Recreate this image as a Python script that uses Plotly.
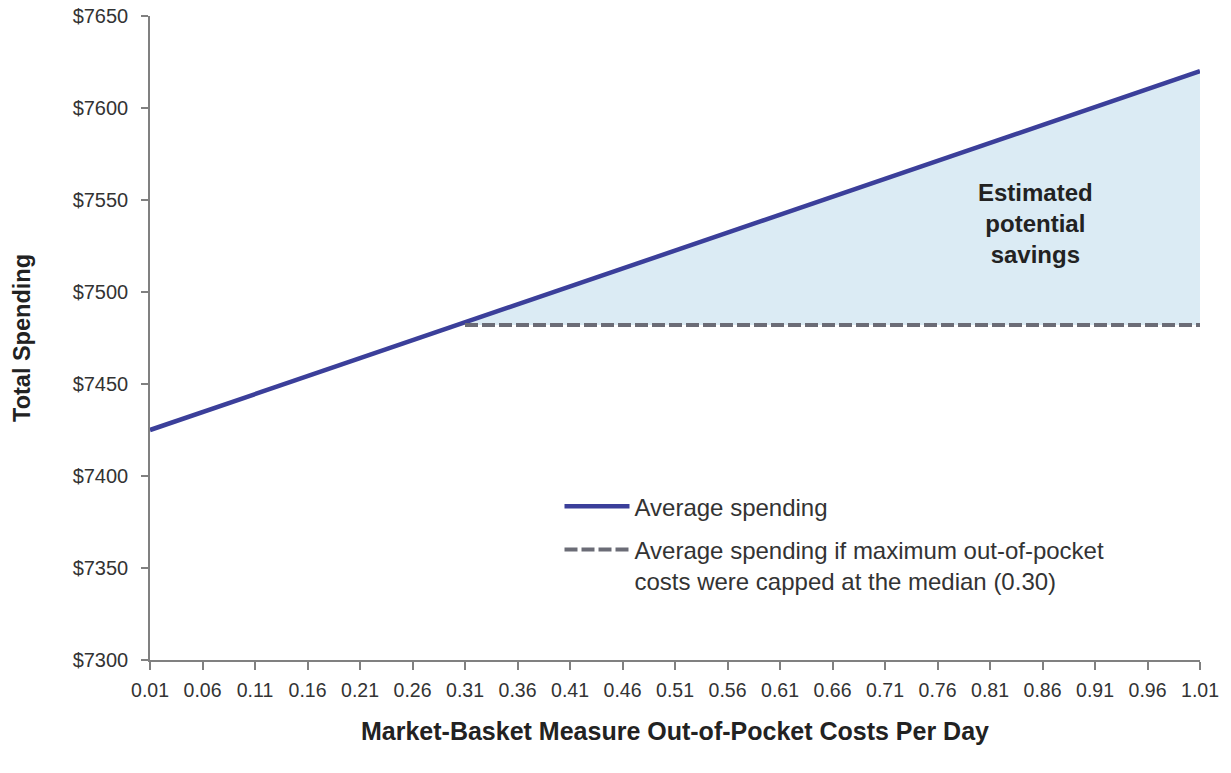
import plotly.graph_objects as go

# Data
x_line = [0.01, 0.31, 1.01]
y_line = [7425, 7483.5, 7620]
x_capped = [0.31, 1.01]
y_capped = [7482, 7482]
x_ticks = [round(0.01 + 0.05 * i, 2) for i in range(21)]
tick_text = [f"{v:.2f}" for v in x_ticks]
y_ticks = [7300, 7350, 7400, 7450, 7500, 7550, 7600, 7650]
y_tick_text = [f"${v}" for v in y_ticks]

FONT = "Liberation Sans, Arial, sans-serif"
LINE_COLOR = "#3b3f9a"
DASH_COLOR = "#6b6c76"
FILL_COLOR = "#dbebf4"

fig = go.Figure()

# base of the fill (capped level)
fig.add_trace(go.Scatter(
    x=x_capped, y=y_capped, mode="lines",
    line=dict(color="rgba(0,0,0,0)", width=0),
    showlegend=False, hoverinfo="skip",
))
# fill region between capped and average spending
fig.add_trace(go.Scatter(
    x=x_line[1:], y=y_line[1:], mode="lines",
    line=dict(color="rgba(0,0,0,0)", width=0),
    fill="tonexty", fillcolor=FILL_COLOR,
    showlegend=False, hoverinfo="skip",
))
# average spending
fig.add_trace(go.Scatter(
    x=x_line, y=y_line, mode="lines",
    line=dict(color=LINE_COLOR, width=4.5),
    name="Average spending", legendgroup="a",
))
# capped spending (dashed)
fig.add_trace(go.Scatter(
    x=x_capped, y=y_capped, mode="lines",
    line=dict(color=DASH_COLOR, width=4, dash="13px,4px"),
    name="Average spending if maximum out-of-pocket<br>costs were capped at the median (0.30)",
    legendgroup="b",
))

fig.add_annotation(
    x=0.853, y=7537, xref="x", yref="y",
    text="<b>Estimated<br>potential<br>savings</b>",
    showarrow=False, font=dict(family=FONT, size=24, color="#222222"),
    align="center",
)

fig.update_layout(
    width=1231, height=773,
    margin=dict(l=150, r=31, t=16, b=113),
    paper_bgcolor="white", plot_bgcolor="white",
    font=dict(family=FONT, size=19, color="#333333"),
    legend=dict(
        x=0.39, y=0.273, xanchor="left", yanchor="top",
        font=dict(family=FONT, size=24, color="#333333"),
        bgcolor="rgba(0,0,0,0)", valign="top", traceorder="grouped",
        tracegroupgap=9, itemwidth=65,
    ),
    xaxis=dict(
        range=[0.01, 1.01], tickvals=x_ticks, ticktext=tick_text,
        showgrid=False, zeroline=False, automargin=False,
        showline=True, linecolor="#808080", linewidth=1.5,
        ticks="outside", ticklen=8, tickcolor="#808080", tickwidth=1.5,
        ticklabelstandoff=4,
        tickfont=dict(family=FONT, size=19.5, color="#333333"),
        title=dict(text="<b>Market-Basket Measure Out-of-Pocket Costs Per Day</b>",
                   font=dict(family=FONT, size=25, color="#222222"), standoff=22),
    ),
    yaxis=dict(
        range=[7300, 7650], tickvals=y_ticks, ticktext=y_tick_text,
        showgrid=False, zeroline=False, automargin=False,
        showline=True, linecolor="#808080", linewidth=1.5,
        ticks="outside", ticklen=7, tickcolor="#808080", tickwidth=1.5,
        ticklabelstandoff=9,
        tickfont=dict(family=FONT, size=20, color="#333333"),
        title=dict(text="<b>Total Spending</b>",
                   font=dict(family=FONT, size=23.5, color="#222222"), standoff=35),
    ),
)

fig.write_html("out.html")
